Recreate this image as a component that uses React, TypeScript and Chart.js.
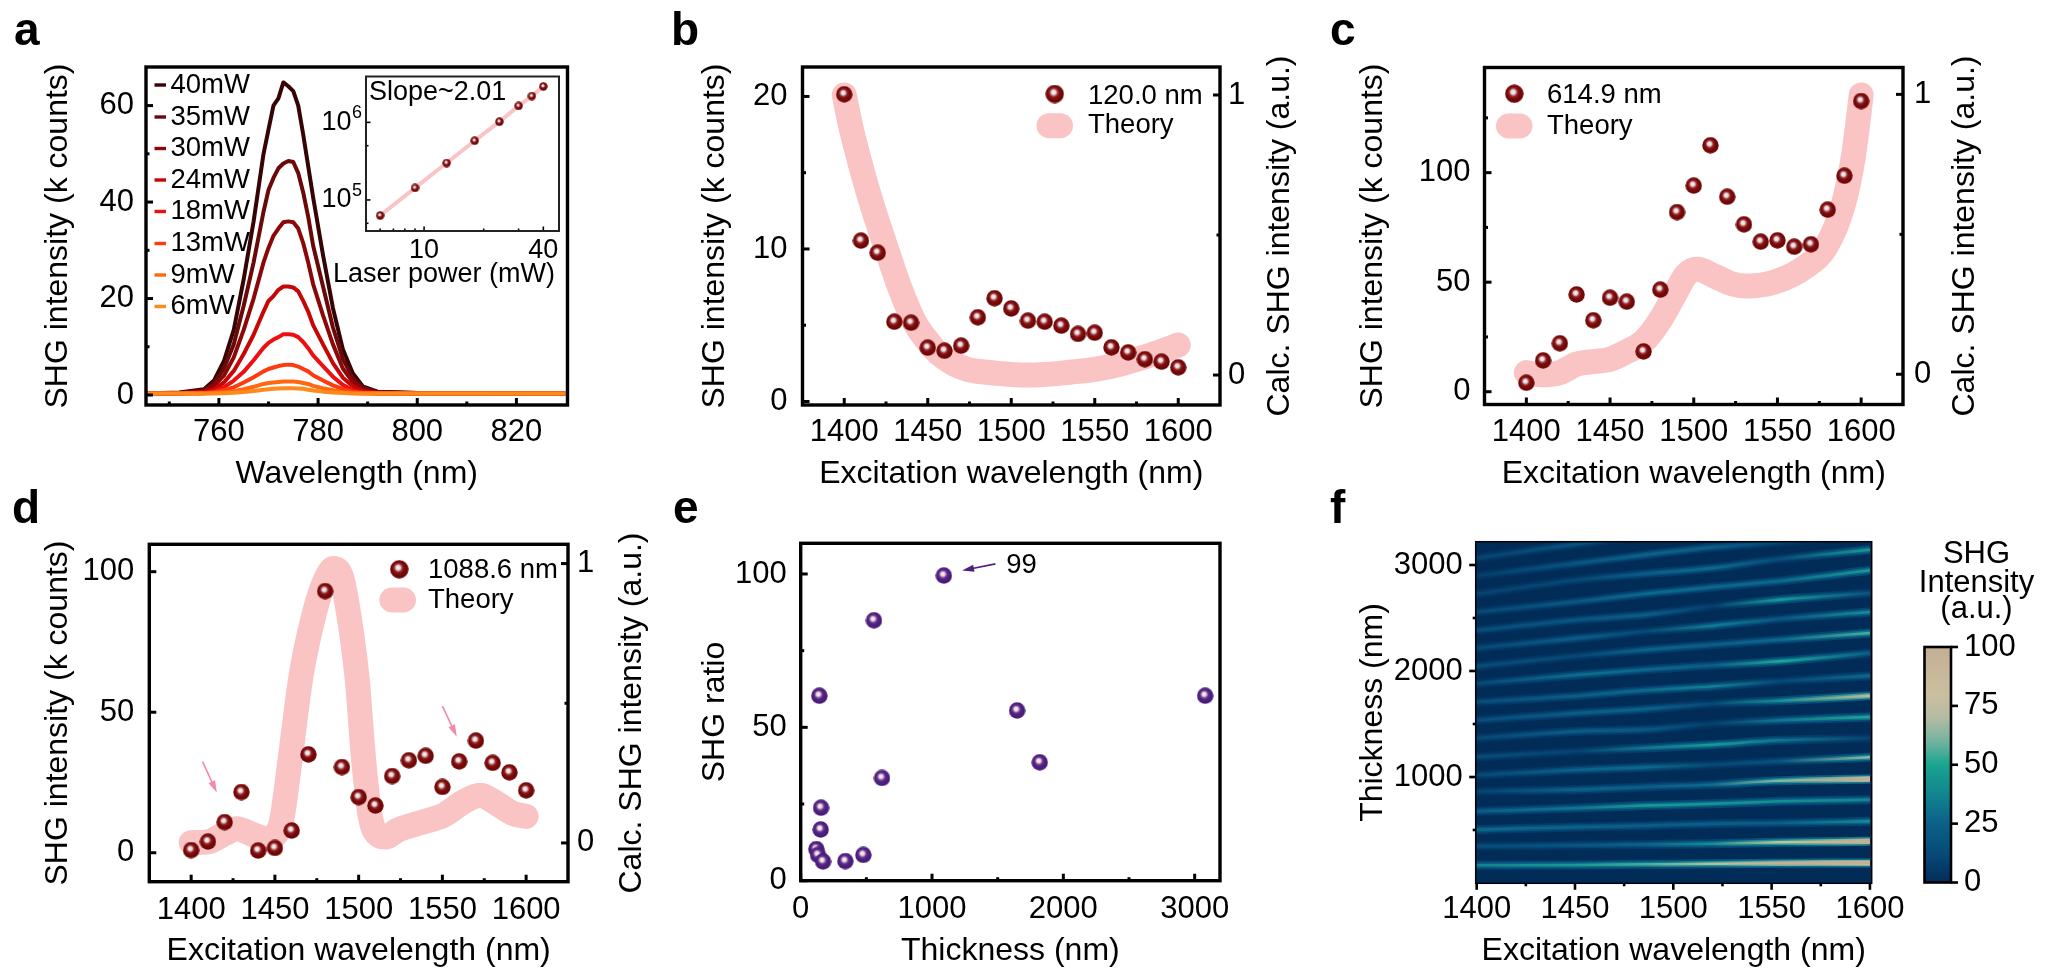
import React, { useEffect, useRef } from 'react';
import { Chart, registerables } from 'chart.js';

Chart.register(...registerables);
Chart.defaults.font.family = '"Liberation Sans", Arial, sans-serif';
Chart.defaults.color = '#000';

const PAGE_W = 2048;
const PAGE_H = 975;
const THEORY_COLOR = '#fac4c5';

// panel a: spectra
const spectrumWavelengths = [745, 752, 757, 759, 761, 763, 765, 767, 769, 770, 771, 772, 773, 774, 775, 776, 777, 778, 779, 781, 783, 785, 787, 789, 792, 800, 815, 830];
const powerNames = ['40mW', '35mW', '30mW', '24mW', '18mW', '13mW', '9mW', '6mW'];
const powerColors = ['#360404', '#6b0808', '#8c0808', '#c70606', '#ee1010', '#ff3a0e', '#ff6810', '#ff8a1c'];
const spectrum40 = [0.3, 0.5, 1.2, 3.0, 7, 13.5, 24, 36, 50, 55, 60, 61.5, 64.8, 64, 63, 60, 54, 47.5, 41, 29, 18, 9.5, 4.5, 1.8, 0.7, 0.4, 0.3, 0.3];
const spectrum35 = [0.3, 0.4, 1, 2.4, 5.5, 10.5, 18.5, 27.5, 38, 42.5, 45, 47, 48, 48.5, 48.3, 46, 42, 37, 31, 22.5, 14, 7.5, 3.5, 1.5, 0.6, 0.4, 0.3, 0.3];
const spectrum30 = [0.3, 0.35, 0.8, 1.9, 4, 7.8, 13.5, 20, 27.5, 30.5, 33, 34.5, 35.8, 36, 35.8, 34.5, 31.5, 27.5, 23, 16.5, 10.5, 5.5, 2.7, 1.2, 0.5, 0.35, 0.3, 0.3];
const spectrum24 = [0.3, 0.3, 0.6, 1.2, 2.6, 5, 8.5, 12.5, 17.3, 19.5, 20.5, 21.8, 22.5, 22.5, 22.3, 21.5, 19.5, 17.3, 14.5, 10.5, 6.6, 3.6, 1.8, 0.8, 0.4, 0.3, 0.3, 0.3];
const spectrum18 = [0.3, 0.3, 0.4, 0.8, 1.6, 3, 4.8, 7.2, 9.8, 10.8, 11.5, 12, 12.6, 12.6, 12.5, 12, 11, 9.7, 8.2, 6, 3.8, 2.1, 1, 0.6, 0.3, 0.3, 0.3, 0.3];
const spectrum13 = [0.3, 0.3, 0.35, 0.6, 1, 1.6, 2.6, 3.7, 4.9, 5.4, 5.7, 6, 6.2, 6.3, 6.2, 5.9, 5.4, 4.9, 4.1, 3, 2, 1.2, 0.7, 0.4, 0.3, 0.3, 0.3, 0.3];
const spectrum9 = [0.3, 0.3, 0.3, 0.4, 0.6, 0.8, 1.2, 1.7, 2.3, 2.5, 2.6, 2.7, 2.8, 2.8, 2.8, 2.7, 2.5, 2.3, 1.9, 1.4, 1, 0.6, 0.4, 0.3, 0.3, 0.3, 0.3, 0.3];
const spectrum6 = [0.3, 0.3, 0.3, 0.3, 0.35, 0.45, 0.6, 0.85, 1.1, 1.2, 1.3, 1.35, 1.4, 1.4, 1.4, 1.35, 1.3, 1.1, 0.95, 0.7, 0.5, 0.4, 0.3, 0.3, 0.3, 0.3, 0.3, 0.3];
const spectra = [spectrum40, spectrum35, spectrum30, spectrum24, spectrum18, spectrum13, spectrum9, spectrum6];

// panel a inset
const insetPower = [6, 9, 13, 18, 24, 30, 35, 40];
const insetCounts = [6.3e4, 1.43e5, 2.99e5, 5.8e5, 1.02e6, 1.63e6, 2.18e6, 2.9e6];

// panels b, c, d: measured points share the excitation grid
const excitation = [1400, 1410, 1420, 1430, 1440, 1450, 1460, 1470, 1480, 1490, 1500, 1510, 1520, 1530, 1540, 1550, 1560, 1570, 1580, 1590, 1600];
const shgB = [20.14, 10.55, 9.76, 5.23, 5.17, 3.53, 3.33, 3.66, 5.52, 6.77, 6.1, 5.3, 5.23, 4.97, 4.43, 4.51, 3.55, 3.22, 2.77, 2.61, 2.24];
const shgC = [4.1, 14.3, 22.1, 44.4, 32.6, 42.9, 41.1, 18.4, 46.6, 82, 94.1, 112.5, 89, 76.4, 68.5, 69.1, 66.2, 67.3, 83.1, 98.6, 132.7];
const shgD = [0.95, 4, 10.9, 21.6, 0.8, 1.7, 7.9, 35, 93.1, 30.5, 19.8, 16.8, 27.3, 32.9, 34.5, 23.4, 32.5, 39.9, 32, 28.6, 22.2];

const theoryBX = [1400, 1404, 1410, 1415, 1420, 1426, 1434, 1442, 1450, 1456, 1465, 1474, 1485, 1494, 1507, 1520, 1535, 1550, 1566, 1580, 1590, 1600];
const theoryBY = [1, 0.885, 0.745, 0.64, 0.545, 0.437, 0.3, 0.19, 0.12, 0.08, 0.042, 0.02, 0.01, 0.005, 0, 0.002, 0.01, 0.02, 0.04, 0.065, 0.085, 0.107];
const theoryCX = [1400, 1410, 1420, 1430, 1440, 1450, 1460, 1470, 1480, 1489.5, 1495.4, 1502, 1513, 1523, 1531, 1549, 1567, 1579, 1589, 1595, 1598, 1600];
const theoryCY = [0.006, -0.002, 0.006, 0.036, 0.045, 0.054, 0.081, 0.117, 0.194, 0.295, 0.355, 0.375, 0.349, 0.323, 0.315, 0.331, 0.385, 0.456, 0.599, 0.765, 0.896, 0.998];
const theoryDX = [1400, 1410, 1420, 1427, 1437, 1445, 1450, 1454, 1459, 1465.5, 1474, 1480, 1485, 1489.4, 1492, 1499, 1503, 1507, 1512, 1516.4, 1523, 1535, 1550.6, 1562.6, 1572.5, 1582.5, 1592.4, 1600];
const theoryDY = [0.001, 0.004, 0.033, 0.051, 0.03, 0.016, 0.027, 0.081, 0.296, 0.594, 0.833, 0.94, 0.982, 0.958, 0.893, 0.594, 0.296, 0.093, 0.027, 0.021, 0.045, 0.069, 0.099, 0.147, 0.171, 0.141, 0.105, 0.095];

// panel e
const thicknessE = [1090, 558, 142, 1648, 3080, 1820, 619, 155, 152, 119, 132, 170, 340, 477];
const ratioE = [99.5, 84.9, 60.3, 55.5, 60.3, 38.6, 33.5, 23.8, 16.7, 10.3, 8.4, 6.3, 6.4, 8.4];

const streakWavelengths = [1400, 1452, 1486, 1520, 1554, 1600];
const streakThickness = [
  [167, 170, 176, 182, 186, 189],
  [346, 355, 362, 371, 384, 393],
  [503, 528, 541, 560, 566, 582],
  [676, 708, 730, 748, 770, 786],
  [865, 881, 906, 928, 965, 981],
  [1016, 1069, 1091, 1116, 1148, 1186],
  [1189, 1242, 1274, 1305, 1346, 1368],
  [1365, 1431, 1447, 1503, 1535, 1566],
  [1535, 1604, 1642, 1692, 1720, 1767],
  [1708, 1767, 1818, 1855, 1903, 1956],
  [1881, 1965, 2013, 2053, 2091, 2170],
  [2044, 2145, 2201, 2248, 2296, 2358],
  [2217, 2311, 2374, 2428, 2491, 2557],
  [2384, 2484, 2531, 2610, 2673, 2736],
  [2557, 2657, 2730, 2792, 2849, 2950],
  [2726, 2862, 2918, 2972, 3057, 3145],
  [2899, 3019, 3097, 3167, 3214, 3286],
  [3066, 3201, 3277, 3340, 3400, 3480],
];
const streakIntensity = [
  [40, 50, 60, 78, 110, 140],
  [15, 20, 28, 45, 90, 170],
  [30, 28, 25, 25, 25, 45],
  [25, 35, 50, 48, 45, 42],
  [10, 28, 25, 32, 68, 150],
  [12, 28, 30, 12, 18, 70],
  [15, 10, 35, 50, 35, 10],
  [12, 25, 22, 8, 35, 55],
  [15, 25, 28, 12, 45, 100],
  [15, 25, 30, 40, 12, 30],
  [12, 32, 30, 25, 55, 25],
  [15, 12, 28, 25, 30, 60],
  [12, 25, 12, 38, 20, 45],
  [15, 20, 25, 8, 50, 18],
  [12, 22, 30, 30, 30, 50],
  [10, 12, 25, 30, 15, 50],
  [8, 20, 28, 25, 12, 5],
  [10, 18, 10, 0, 0, 0],
];

// colour scale of panel f
const mapStops: [number, number[]][] = [
  [0, [2, 44, 88]], [12, [6, 74, 120]], [25, [11, 96, 136]], [37, [17, 131, 143]], [50, [25, 165, 143]],
  [60, [116, 179, 160]], [70, [181, 187, 163]], [80, [202, 191, 159]], [100, [197, 174, 147]],
];
const colormap = (v: number) => {
  const c = Math.max(0, Math.min(100, v));
  if (c <= 0) return 'rgb(2,44,88)';
  for (let i = 1; i < mapStops.length; i++) {
    if (c <= mapStops[i][0]) {
      const [a, ca] = mapStops[i - 1];
      const [b, cb] = mapStops[i];
      const t = (c - a) / (b - a);
      return `rgb(${ca.map((q, k) => Math.round(q + (cb[k] - q) * t)).join(',')})`;
    }
  }
  return 'rgb(197,174,147)';
};

const pts = (xs: number[], ys: number[]) => xs.map((x, i) => ({ x, y: ys[i] }));

// glossy ball marker
function makeBall(size: number, base: string, edge: string, mid: string) {
  const c = document.createElement('canvas');
  c.width = size;
  c.height = size;
  const g = c.getContext('2d')!;
  const r = size / 2 - 0.3;
  const grad = g.createRadialGradient(size * 0.43, size * 0.4, 0, size * 0.47, size * 0.45, r * 1.05);
  grad.addColorStop(0, '#f8f2f2');
  grad.addColorStop(0.22, '#eed9dc');
  grad.addColorStop(0.44, mid);
  grad.addColorStop(0.62, base);
  grad.addColorStop(1, edge);
  g.fillStyle = grad;
  g.beginPath();
  g.arc(size / 2, size / 2, r, 0, Math.PI * 2);
  g.fill();
  return c;
}
const redBall = makeBall(17, '#7d0a0a', '#6a0505', '#8e2a2e');
const legendBall = makeBall(19, '#7d0a0a', '#6a0505', '#8e2a2e');
const smallRedBall = makeBall(9, '#7d0a0a', '#6a0505', '#8e2a2e');
const purpleBall = makeBall(17, '#50207f', '#481a78', '#6b3c95');

type Frame = { l: number; t: number; r: number; b: number };
type Decor = {
  frame: Frame;
  frameWidth?: number;
  frameColor?: string;
  outward?: boolean;
  major?: number;
  minor?: number;
  tickWidth?: number;
  background?: string;
  texts?: any[];
  arrows?: any[];
  swatches?: any[];
  balls?: any[];
};

// frame, inward/outward ticks, annotations and hand placed legends
function decor(d: Decor) {
  return {
    id: 'decor',
    beforeDatasetsDraw(chart: any) {
      if (!d.background) return;
      const a = chart.chartArea;
      chart.ctx.fillStyle = d.background;
      chart.ctx.fillRect(a.left, a.top, a.right - a.left, a.bottom - a.top);
    },
    afterDatasetsDraw(chart: any) {
      const ctx = chart.ctx;
      const a = chart.chartArea;
      ctx.save();
      ctx.strokeStyle = '#000';
      const dir = d.outward ? -1 : 1;
      Object.values(chart.scales).forEach((s: any) => {
        if (!s.options.display) return;
        s.ticks.forEach((t: any) => {
          const p = s.getPixelForValue(t.value);
          const len = t.label !== '' ? d.major ?? 7 : d.minor ?? 3.5;
          ctx.lineWidth = d.tickWidth ?? 3;
          ctx.beginPath();
          if (s.position === 'bottom') {
            ctx.moveTo(p, a.bottom);
            ctx.lineTo(p, a.bottom - dir * len);
          } else if (s.position === 'left') {
            ctx.moveTo(a.left, p);
            ctx.lineTo(a.left + dir * len, p);
          } else {
            ctx.moveTo(a.right, p);
            ctx.lineTo(a.right - dir * len, p);
          }
          ctx.stroke();
        });
      });
      ctx.strokeStyle = d.frameColor ?? '#000';
      ctx.lineWidth = d.frameWidth ?? 3.4;
      ctx.strokeRect(a.left, a.top, a.right - a.left, a.bottom - a.top);

      (d.arrows ?? []).forEach((ar) => {
        const x1 = chart.scales.x.getPixelForValue(ar.from[0]);
        const y1 = chart.scales.y.getPixelForValue(ar.from[1]);
        const x2 = chart.scales.x.getPixelForValue(ar.to[0]);
        const y2 = chart.scales.y.getPixelForValue(ar.to[1]);
        const ang = Math.atan2(y2 - y1, x2 - x1);
        ctx.strokeStyle = ar.color;
        ctx.fillStyle = ar.color;
        ctx.lineWidth = 1.6;
        ctx.beginPath();
        ctx.moveTo(x1, y1);
        ctx.lineTo(x2 - 8 * Math.cos(ang), y2 - 8 * Math.sin(ang));
        ctx.stroke();
        ctx.beginPath();
        ctx.moveTo(x2, y2);
        ctx.lineTo(x2 - 12 * Math.cos(ang) + 3.6 * Math.sin(ang), y2 - 12 * Math.sin(ang) - 3.6 * Math.cos(ang));
        ctx.lineTo(x2 - 12 * Math.cos(ang) - 3.6 * Math.sin(ang), y2 - 12 * Math.sin(ang) + 3.6 * Math.cos(ang));
        ctx.closePath();
        ctx.fill();
      });

      (d.swatches ?? []).forEach((sw) => {
        ctx.strokeStyle = sw.color;
        ctx.lineWidth = sw.width;
        ctx.lineCap = sw.cap ?? 'butt';
        ctx.beginPath();
        ctx.moveTo(sw.x1, sw.y);
        ctx.lineTo(sw.x2, sw.y);
        ctx.stroke();
      });
      ctx.lineCap = 'butt';
      (d.balls ?? []).forEach((b) => {
        ctx.drawImage(b.img, b.x - b.img.width / 2, b.y - b.img.height / 2);
      });

      (d.texts ?? []).forEach((t) => {
        ctx.save();
        ctx.translate(t.x, t.y);
        if (t.rotate) ctx.rotate(t.rotate);
        ctx.font = `${t.bold ? 'bold ' : ''}${t.size}px "Liberation Sans", Arial, sans-serif`;
        ctx.fillStyle = t.color ?? '#000';
        ctx.textAlign = t.align ?? 'left';
        ctx.textBaseline = t.baseline ?? 'middle';
        ctx.fillText(t.text, 0, 0);
        ctx.restore();
      });
      ctx.restore();
    },
  };
}

type AxisOpts = {
  position: string;
  min: number;
  max: number;
  majors: number[];
  minors?: number[];
  box: number;
  pad: number;
  title?: string;
  titleAt?: number;
  fontSize?: number;
  type?: string;
  fmt?: (v: number) => string;
};

// ticks come from the lists above, box size is forced so the plot area lands on the frame
function axis(o: AxisOpts) {
  const horizontal = o.position === 'bottom';
  const titleOffset = 19.2;
  const titlePad = o.titleAt === undefined ? 0 : horizontal ? PAGE_H - o.titleAt - titleOffset : o.titleAt - titleOffset;
  return {
    type: o.type ?? 'linear',
    position: o.position,
    min: o.min,
    max: o.max,
    grid: { display: false, drawTicks: false },
    border: { display: false },
    afterBuildTicks: (s: any) => {
      s.ticks = [...o.majors, ...(o.minors ?? [])].sort((p, q) => p - q).map((value) => ({ value }));
    },
    afterFit: (s: any) => {
      if (horizontal) s.height = o.box;
      else s.width = o.box;
    },
    ticks: {
      autoSkip: false,
      maxRotation: 0,
      minRotation: 0,
      padding: o.pad,
      font: { size: o.fontSize ?? 31 },
      color: '#000',
      callback: (v: number) => (o.majors.includes(v) ? (o.fmt ? o.fmt(v) : String(v)) : ''),
    },
    title: o.title
      ? { display: true, text: o.title, color: '#000', font: { size: 32 }, padding: { top: titlePad, bottom: titlePad } }
      : { display: false },
  };
}

const baseOptions = (f: Frame, scales: any, hasRight = false, bottomPad = 0, leftPad = 0) => ({
  responsive: false,
  animation: false,
  devicePixelRatio: 1,
  events: [],
  layout: { padding: { top: f.t, right: hasRight ? 0 : PAGE_W - f.r, bottom: bottomPad, left: leftPad } },
  plugins: { legend: { display: false }, tooltip: { enabled: false } },
  scales,
});

const excitationMajors = [1400, 1450, 1500, 1550, 1600];
const excitationMinors = [1425, 1475, 1525, 1575];

function spectraConfig() {
  const f = { l: 146, t: 67, r: 567.5, b: 405 };
  const legendRows = [85, 117, 148.5, 180, 211.5, 243.5, 275, 306.5];
  return {
    type: 'scatter',
    data: {
      datasets: spectra.map((s, i) => ({
        label: powerNames[i],
        data: pts(spectrumWavelengths, s),
        showLine: true,
        borderColor: powerColors[i],
        borderWidth: 4,
        borderJoinStyle: 'round',
        pointRadius: 0,
        order: spectra.length - i,
      })),
    },
    options: baseOptions(f, {
      x: axis({ position: 'bottom', min: 745.3, max: 830.3, majors: [760, 780, 800, 820], minors: [750, 770, 790, 810], box: PAGE_H - f.b, pad: 9, title: 'Wavelength (nm)', titleAt: 474 }),
      y: axis({ position: 'left', min: -2.07, max: 68, majors: [0, 20, 40, 60], minors: [10, 30, 50], box: f.l, pad: 12, title: 'SHG intensity (k counts)', titleAt: 58 }),
    }),
    plugins: [decor({
      frame: f,
      swatches: legendRows.map((y, i) => ({ x1: 154.5, x2: 166, y, width: 3.4, color: powerColors[i] })),
      texts: [
        { text: 'a', x: 14, y: 45, size: 46, bold: true, baseline: 'alphabetic' },
        ...legendRows.map((y, i) => ({ text: powerNames[i], x: 170.5, y, size: 27.5 })),
      ],
    })],
  };
}

function insetConfig() {
  const f = { l: 366, t: 76.5, r: 559, b: 231 };
  return {
    type: 'scatter',
    data: {
      datasets: [
        { data: pts(insetPower, insetCounts), pointStyle: smallRedBall, pointRadius: 4.5, showLine: false, order: 0 },
        { data: pts(insetPower, insetCounts), showLine: true, borderColor: THEORY_COLOR, borderWidth: 4, pointRadius: 0, order: 1 },
      ],
    },
    options: baseOptions(f, {
      x: axis({ type: 'logarithmic', position: 'bottom', min: 5.09, max: 48, majors: [10, 40], minors: [6, 7, 8, 9, 20, 30], box: PAGE_H - f.b, pad: 3, fontSize: 27 }),
      y: axis({ type: 'logarithmic', position: 'left', min: 3.98e4, max: 3.9e6, majors: [1e5, 1e6], minors: [5e4, 5e5], box: f.l, pad: 14.5, fontSize: 27, fmt: () => '10' }),
    }),
    plugins: [decor({
      frame: f,
      frameWidth: 2,
      frameColor: '#222',
      tickWidth: 1.6,
      major: 4.5,
      minor: 2.5,
      texts: [
        { text: 'Slope~2.01', x: 369, y: 93, size: 27 },
        { text: '6', x: 352, y: 113.5, size: 18 },
        { text: '5', x: 352, y: 191.5, size: 18 },
        { text: 'Laser power (mW)', x: 333, y: 275, size: 27 },
      ],
    })],
  };
}

type ResonanceOpts = {
  f: Frame;
  shg: number[];
  theoryX: number[];
  theoryY: number[];
  yMin: number;
  yMax: number;
  y2Min: number;
  y2Max: number;
  majors: number[];
  minors: number[];
  yTitleAt: number;
  xTitleAt: number;
  xPad: number;
  yPad: number;
  y2Pad: number;
  texts: any[];
  swatch: any;
  ball: any;
  arrows?: any[];
};

function resonanceConfig(o: ResonanceOpts) {
  const { f } = o;
  return {
    type: 'scatter',
    data: {
      datasets: [
        { data: pts(excitation, o.shg), pointStyle: redBall, pointRadius: 8.5, order: 0 },
        {
          data: pts(o.theoryX, o.theoryY),
          yAxisID: 'y2',
          showLine: true,
          borderColor: THEORY_COLOR,
          borderWidth: 25,
          borderCapStyle: 'round',
          borderJoinStyle: 'round',
          cubicInterpolationMode: 'monotone',
          pointRadius: 0,
          order: 1,
        },
      ],
    },
    options: baseOptions(f, {
      x: axis({ position: 'bottom', min: 1375, max: 1625, majors: excitationMajors, minors: excitationMinors, box: PAGE_H - f.b, pad: o.xPad, title: 'Excitation wavelength (nm)', titleAt: o.xTitleAt }),
      y: axis({ position: 'left', min: o.yMin, max: o.yMax, majors: o.majors, minors: o.minors, box: f.l, pad: o.yPad, title: 'SHG intensity (k counts)', titleAt: o.yTitleAt }),
      y2: axis({ position: 'right', min: o.y2Min, max: o.y2Max, majors: [0, 1], minors: [0.5], box: PAGE_W - f.r, pad: o.y2Pad }),
    }, true),
    plugins: [decor({ frame: f, texts: o.texts, swatches: [o.swatch], balls: [o.ball], arrows: o.arrows })],
  };
}

function ratioConfig() {
  const f = { l: 800.7, t: 543.3, r: 1220, b: 880.7 };
  return {
    type: 'scatter',
    data: { datasets: [{ data: pts(thicknessE, ratioE), pointStyle: purpleBall, pointRadius: 8.5 }] },
    options: baseOptions(f, {
      x: axis({ position: 'bottom', min: 0, max: 3193, majors: [0, 1000, 2000, 3000], minors: [500, 1500, 2500], box: PAGE_H - f.b, pad: 10, title: 'Thickness (nm)', titleAt: 951 }),
      y: axis({ position: 'left', min: 0, max: 110, majors: [0, 50, 100], minors: [25, 75], box: f.l, pad: 14, title: 'SHG ratio', titleAt: 715 }),
    }),
    plugins: [decor({
      frame: f,
      arrows: [{ from: [1483, 103.3], to: [1229, 101.1], color: '#50207f' }],
      texts: [
        { text: 'e', x: 673, y: 523, size: 46, bold: true, baseline: 'alphabetic' },
        { text: '99', x: 1021.5, y: 565.5, size: 27.5, align: 'center' },
      ],
    })],
  };
}

function heatmapConfig() {
  const f = { l: 1475.7, t: 541.7, r: 1871.7, b: 883.3 };
  // each streak is stacked three times so it falls off into the background like a heatmap
  const layers = [
    { width: 9, factor: 0.22, order: 3 },
    { width: 5.5, factor: 0.55, order: 2 },
    { width: 2.5, factor: 0.92, order: 1 },
  ];
  const datasets: any[] = [];
  streakThickness.forEach((row, i) => {
    layers.forEach((layer) => {
      datasets.push({
        data: pts(streakWavelengths, row),
        showLine: true,
        pointRadius: 0,
        borderWidth: layer.width,
        order: layer.order,
        cubicInterpolationMode: 'monotone',
        borderColor: (c: any) => {
          if (!c.chart.chartArea) return colormap(0);
          const x = c.chart.scales.x;
          const g = c.chart.ctx.createLinearGradient(x.getPixelForValue(1400), 0, x.getPixelForValue(1600), 0);
          streakWavelengths.forEach((w, k) => {
            g.addColorStop((w - 1400) / 200, colormap(streakIntensity[i][k] * layer.factor));
          });
          return g;
        },
      });
    });
  });
  return {
    type: 'scatter',
    data: { datasets },
    options: baseOptions(f, {
      x: axis({ position: 'bottom', min: 1399.5, max: 1600.9, majors: excitationMajors, minors: excitationMinors, box: PAGE_H - f.b, pad: 8, title: 'Excitation wavelength (nm)', titleAt: 951 }),
      y: axis({ position: 'left', min: -3, max: 3220, majors: [1000, 2000, 3000], minors: [500, 1500, 2500], box: f.l, pad: 13, title: 'Thickness (nm)', titleAt: 1373 }),
    }),
    plugins: [decor({
      frame: f,
      frameWidth: 1.5,
      outward: true,
      major: 6.5,
      minor: 3,
      tickWidth: 2.6,
      background: colormap(0),
      texts: [{ text: 'f', x: 1330, y: 523, size: 46, bold: true, baseline: 'alphabetic' }],
    })],
  };
}

function colorbarConfig() {
  const f = { l: 1924.5, t: 647, r: 1951, b: 882.5 };
  return {
    type: 'bar',
    data: {
      labels: ['SHG'],
      datasets: [{
        data: [[0, 100]],
        barPercentage: 1,
        categoryPercentage: 1,
        backgroundColor: (c: any) => {
          if (!c.chart.chartArea) return colormap(0);
          const y = c.chart.scales.y;
          const g = c.chart.ctx.createLinearGradient(0, y.getPixelForValue(0), 0, y.getPixelForValue(100));
          mapStops.forEach(([v]) => g.addColorStop(v / 100, colormap(v)));
          return g;
        },
      }],
    },
    options: baseOptions(f, {
      x: { type: 'category', display: false },
      y: axis({ position: 'right', min: 0, max: 100, majors: [0, 25, 50, 75, 100], box: PAGE_W - f.r, pad: 13 }),
    }, true, PAGE_H - f.b, f.l),
    plugins: [decor({
      frame: f,
      frameWidth: 2.6,
      outward: true,
      major: 7,
      tickWidth: 2.6,
      texts: [
        { text: 'SHG', x: 1976.5, y: 562.5, size: 31, align: 'center', baseline: 'alphabetic' },
        { text: 'Intensity', x: 1976.5, y: 591.5, size: 31, align: 'center', baseline: 'alphabetic' },
        { text: '(a.u.)', x: 1976.5, y: 618, size: 31, align: 'center', baseline: 'alphabetic' },
      ],
    })],
  };
}

const calcTitle = (x: number, y: number) => ({ text: 'Calc. SHG intensity (a.u.)', x, y, size: 32, rotate: -Math.PI / 2, align: 'center' });

const configB = () => resonanceConfig({
  f: { l: 802.5, t: 67, r: 1220, b: 405 },
  shg: shgB,
  theoryX: theoryBX,
  theoryY: theoryBY,
  yMin: -0.23,
  yMax: 21.93,
  y2Min: -0.107,
  y2Max: 1.1,
  majors: [0, 10, 20],
  minors: [5, 15],
  yTitleAt: 715,
  xTitleAt: 474,
  xPad: 9,
  yPad: 15,
  y2Pad: 8,
  swatch: { x1: 1049, x2: 1060.5, y: 125.7, width: 25, color: THEORY_COLOR, cap: 'round' },
  ball: { img: legendBall, x: 1054.7, y: 94 },
  texts: [
    { text: 'b', x: 671, y: 45, size: 46, bold: true, baseline: 'alphabetic' },
    { text: '120.0 nm', x: 1088, y: 96, size: 27.5 },
    { text: 'Theory', x: 1088, y: 125, size: 27.5 },
    calcTitle(1280, 236),
  ],
});

const configC = () => resonanceConfig({
  f: { l: 1484.5, t: 67.5, r: 1903, b: 404.5 },
  shg: shgC,
  theoryX: theoryCX,
  theoryY: theoryCY,
  yMin: -5.84,
  yMax: 148,
  y2Min: -0.108,
  y2Max: 1.096,
  majors: [0, 50, 100],
  minors: [25, 75, 125],
  yTitleAt: 1373,
  xTitleAt: 474,
  xPad: 9,
  yPad: 14,
  y2Pad: 11,
  swatch: { x1: 1508.5, x2: 1520, y: 126, width: 25, color: THEORY_COLOR, cap: 'round' },
  ball: { img: legendBall, x: 1514.3, y: 93.7 },
  texts: [
    { text: 'c', x: 1330, y: 45, size: 46, bold: true, baseline: 'alphabetic' },
    { text: '614.9 nm', x: 1547, y: 95.7, size: 27.5 },
    { text: 'Theory', x: 1547, y: 126, size: 27.5 },
    calcTitle(1965, 236),
  ],
});

const configD = () => resonanceConfig({
  f: { l: 149.3, t: 544.3, r: 568, b: 881.7 },
  shg: shgD,
  theoryX: theoryDX,
  theoryY: theoryDY,
  yMin: -10.3,
  yMax: 109.75,
  y2Min: -0.1387,
  y2Max: 1.069,
  majors: [0, 50, 100],
  minors: [],
  yTitleAt: 58,
  xTitleAt: 951,
  xPad: 10,
  yPad: 15,
  y2Pad: 9,
  swatch: { x1: 391.8, x2: 403.5, y: 600, width: 25, color: THEORY_COLOR, cap: 'round' },
  ball: { img: legendBall, x: 399.3, y: 569.3 },
  arrows: [
    { from: [1406.8, 32.4], to: [1415.3, 21.4], color: '#f28aa8' },
    { from: [1550, 52.2], to: [1558.6, 41.3], color: '#f28aa8' },
  ],
  texts: [
    { text: 'd', x: 12, y: 523, size: 46, bold: true, baseline: 'alphabetic' },
    { text: '1088.6 nm', x: 428, y: 570, size: 27.5 },
    { text: 'Theory', x: 428, y: 600, size: 27.5 },
    calcTitle(631.7, 713),
  ],
});

function ChartCanvas({ build }: { build: () => any }) {
  const ref = useRef<HTMLCanvasElement>(null);

  useEffect(() => {
    if (!ref.current) return;
    const chart = new Chart(ref.current, build());
    return () => chart.destroy();
  }, [build]);

  return <canvas ref={ref} width={PAGE_W} height={PAGE_H} style={{ position: 'absolute', left: 0, top: 0, width: PAGE_W, height: PAGE_H }} />;
}

const panels = [spectraConfig, insetConfig, configB, configC, configD, ratioConfig, heatmapConfig, colorbarConfig];

export default function App() {
  return (
    <div style={{ position: 'absolute', left: 0, top: 0, width: PAGE_W, height: PAGE_H, background: '#fff', overflow: 'hidden' }}>
      {panels.map((build, i) => <ChartCanvas key={i} build={build} />)}
    </div>
  );
}
